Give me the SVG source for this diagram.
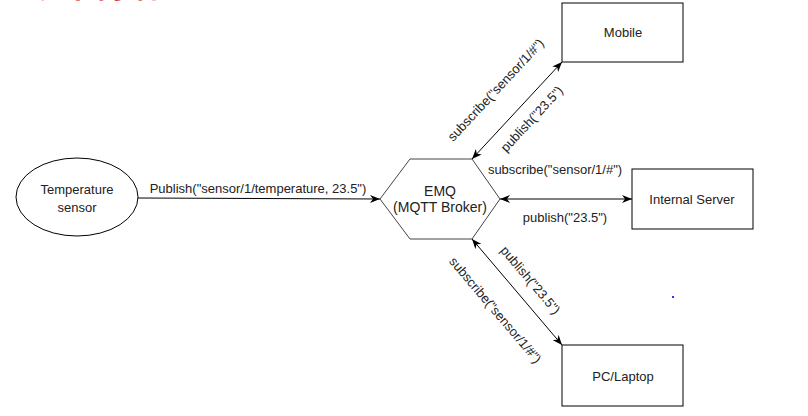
<svg xmlns="http://www.w3.org/2000/svg" width="808" height="416" viewBox="0 0 808 416">
  <style>
    .shape { fill: #ffffff; stroke: #000000; stroke-width: 1; }
    .hex { fill: #ffffff; stroke: #444444; stroke-width: 1; }
    .label { font-family: "Liberation Sans", Arial, sans-serif; font-size: 13px; fill: #222222; text-anchor: middle; }
    .node { font-family: "Liberation Sans", Arial, sans-serif; font-size: 13px; fill: #222222; text-anchor: middle; }
    .edge { fill: none; stroke: #000000; stroke-width: 1; }
    .title { font-family: "Noto Sans CJK SC", "Liberation Sans", sans-serif; font-size: 32px; fill: #cc0000; font-weight: bold; }
  </style>
  <defs>
    <marker id="arrow" viewBox="0 0 10 8" refX="10" refY="4" markerWidth="10" markerHeight="8" markerUnits="userSpaceOnUse" orient="auto-start-reverse">
      <path d="M0,0 L10,4 L0,8 L3,4 z" fill="#000000"/>
    </marker>
  </defs>
  <rect width="808" height="416" fill="#ffffff"/>

  <text class="title" x="-2" y="-3">系统架构描述</text>

  <g id="connectors">
    <line class="edge" x1="138" y1="198" x2="380" y2="199" marker-end="url(#arrow)"/>
    <line class="edge" x1="472" y1="159" x2="562" y2="62" marker-start="url(#arrow)" marker-end="url(#arrow)"/>
    <line class="edge" x1="500" y1="199" x2="632" y2="199" marker-start="url(#arrow)" marker-end="url(#arrow)"/>
    <line class="edge" x1="472" y1="239" x2="562" y2="345" marker-start="url(#arrow)" marker-end="url(#arrow)"/>
    <text class="label" x="258" y="193">Publish("sensor/1/temperature, 23.5")</text>
    <text class="label" x="555" y="174">subscribe("sensor/1/#")</text>
    <text class="label" x="565" y="222">publish("23.5")</text>
    <text class="label" transform="translate(499,93) rotate(-47)">subscribe("sensor/1/#")</text>
    <text class="label" transform="translate(535,122) rotate(-47)">publish("23.5")</text>
    <text class="label" transform="translate(527,283) rotate(49.7)">publish("23.5")</text>
    <text class="label" transform="translate(492,313) rotate(49.7)">subscribe("sensor/1/#")</text>
  </g>

  <g id="temperature-sensor">
    <ellipse class="shape" cx="77" cy="197" rx="61" ry="39"/>
    <text class="node" x="77" y="194">Temperature</text>
    <text class="node" x="77" y="212">sensor</text>
  </g>

  <g id="emq">
    <polygon class="hex" points="380,199 410,159 472,159 500,199 472,239 410,239"/>
    <text class="node" x="440" y="196" style="font-size:14px">EMQ</text>
    <text class="node" x="440" y="212" style="font-size:14px">(MQTT Broker)</text>
  </g>

  <g id="mobile">
    <rect class="shape" x="562" y="3" width="121" height="59"/>
    <text class="node" x="623" y="37">Mobile</text>
  </g>

  <g id="internal-server">
    <rect class="shape" x="632" y="169" width="121" height="60"/>
    <text class="node" x="692" y="204">Internal Server</text>
  </g>

  <g id="pc-laptop">
    <rect class="shape" x="562" y="345" width="121" height="61"/>
    <text class="node" x="623" y="381">PC/Laptop</text>
  </g>

  <rect x="672" y="296" width="2" height="2" fill="#3333ff"/>
</svg>
